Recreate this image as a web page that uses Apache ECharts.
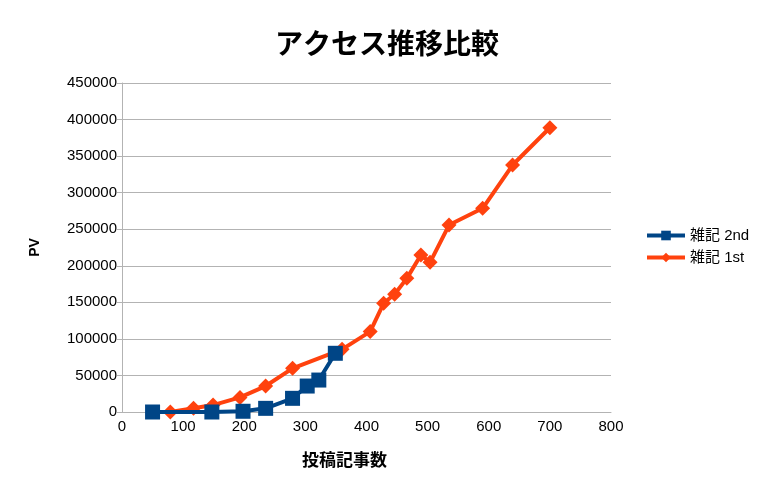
<!DOCTYPE html>
<html><head><meta charset="utf-8">
<script src="https://cdn.jsdelivr.net/npm/echarts@6/dist/echarts.min.js"></script>
<style>html,body{margin:0;padding:0;background:#fff}#c{width:768px;height:493px}</style>
</head><body><div id="c"></div>
<script>
const seriesNames = ['雑記 2nd', '雑記 1st'];
const posts2nd = [50, 147, 198, 235, 279, 303, 322, 349];
const pv2nd = [0, 0, 1000, 5000, 18700, 35500, 43700, 80300];
const posts1st = [79, 117, 149, 193, 235, 279, 360, 406, 428, 446, 466, 489, 504, 535, 590, 639, 700];
const pv1st = [0, 5000, 9500, 20000, 35500, 59700, 85700, 110000, 148700, 161000, 182800, 214700, 204700, 255700, 278600, 337800, 388800];
const titleText = 'アクセス推移比較';
const xName = '投稿記事数';
const yName = 'PV';

const zip = (a, b) => a.map((v, i) => [v, b[i]]);
const font = 'Liberation Sans, Arial, sans-serif';
const cjk = 'Liberation Sans, Noto Sans CJK JP, sans-serif';
const chart = echarts.init(document.getElementById('c'));
chart.setOption({
  animation: false,
  title: { text: titleText, left: 382, top: 24, textAlign: 'center',
    textStyle: { fontSize: 28, fontWeight: 'bold', color: '#000', fontFamily: 'Noto Sans CJK JP' } },
  graphic: [{
    type: 'text', left: 302, top: 451,
    style: { text: xName, fontSize: 17, fontWeight: 'bold', fill: '#000', fontFamily: 'Noto Sans CJK JP' }
  }],
  grid: { left: 122, right: 157, top: 83, bottom: 81 },
  legend: {
    orient: 'vertical', left: 640, top: 223, itemWidth: 38, itemHeight: 12, itemGap: 7,
    data: seriesNames,
    lineStyle: { width: 4 },
    textStyle: { fontSize: 15, color: '#000', fontFamily: cjk }
  },
  xAxis: {
    type: 'value', min: 0, max: 800, interval: 100,
    axisLine: { show: true, lineStyle: { color: '#b3b3b3' } },
    axisTick: { show: false },
    axisLabel: { fontSize: 15, color: '#000', fontFamily: font, margin: 7 },
    splitLine: { show: false }
  },
  yAxis: {
    type: 'value', min: 0, max: 450000, interval: 50000,
    name: yName, nameLocation: 'middle', nameGap: 80, nameRotate: 90,
    nameTextStyle: { fontSize: 14, fontWeight: 'bold', color: '#000', fontFamily: font },
    axisLine: { show: true, lineStyle: { color: '#b3b3b3' } },
    axisTick: { show: true, length: 5, lineStyle: { color: '#b3b3b3' } },
    axisLabel: { fontSize: 15, color: '#000', fontFamily: font, margin: 5, formatter: v => String(v) },
    splitLine: { show: true, lineStyle: { color: '#b3b3b3' } }
  },
  series: [
    { name: seriesNames[0], type: 'line', data: zip(posts2nd, pv2nd), z: 3,
      symbol: 'rect', symbolSize: 15, color: '#004586',
      lineStyle: { width: 4, color: '#004586' }, itemStyle: { color: '#004586' } },
    { name: seriesNames[1], type: 'line', data: zip(posts1st, pv1st), z: 2,
      symbol: 'diamond', symbolSize: 15, color: '#ff420e',
      lineStyle: { width: 4, color: '#ff420e' }, itemStyle: { color: '#ff420e' } }
  ]
});
</script></body></html>
